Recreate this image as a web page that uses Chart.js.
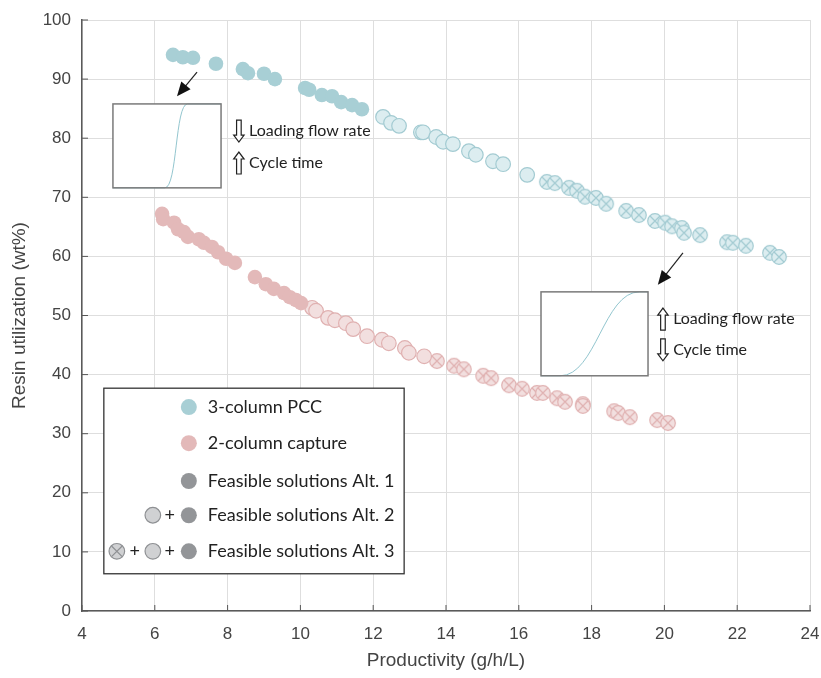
<!DOCTYPE html>
<html>
<head>
<meta charset="utf-8">
<script src="https://cdn.jsdelivr.net/npm/chart.js@4"></script>
<style>
  body { margin: 0; background: #fff; }
  #wrap { width: 821px; height: 678px; }
</style>
</head>
<body>
<div id="wrap"><canvas id="chart" width="821" height="678"></canvas></div>
<script>
// 3-column PCC, alt = which feasible-solution set the point belongs to (1, 2 or 3)
const pccX = [6.50, 6.77, 7.05, 7.68, 8.42, 8.56, 9.00, 9.30, 10.13, 10.24, 10.59, 10.87, 11.12, 11.42, 11.69,
  12.27, 12.49, 12.71, 13.31, 13.37, 13.73, 13.92, 14.19, 14.63, 14.82, 15.29, 15.57, 16.23,
  16.77, 16.99, 17.38, 17.60, 17.82, 18.12, 18.40, 18.95, 19.30, 19.74, 20.02, 20.21, 20.48, 20.54, 20.98, 21.72, 21.88, 22.24, 22.90, 23.15];
const pccY = [94.1, 93.7, 93.6, 92.6, 91.7, 91.0, 90.9, 90.0, 88.5, 88.2, 87.3, 87.1, 86.1, 85.6, 84.9,
  83.6, 82.6, 82.1, 81.0, 81.0, 80.2, 79.4, 79.0, 77.8, 77.2, 76.1, 75.6, 73.8,
  72.6, 72.4, 71.6, 71.1, 70.1, 69.9, 68.9, 67.7, 67.0, 66.0, 65.7, 65.1, 64.8, 64.0, 63.6, 62.4, 62.3, 61.8, 60.6, 59.9];
const pccAlt = [1, 1, 1, 1, 1, 1, 1, 1, 1, 1, 1, 1, 1, 1, 1,
  2, 2, 2, 2, 2, 2, 2, 2, 2, 2, 2, 2, 2,
  3, 3, 3, 3, 3, 3, 3, 3, 3, 3, 3, 3, 3, 3, 3, 3, 3, 3, 3, 3];

// 2-column capture
const capX = [6.20, 6.23, 6.53, 6.64, 6.80, 6.91, 7.21, 7.35, 7.57, 7.74, 7.96, 8.20, 8.75, 9.05, 9.27, 9.55, 9.71, 9.88, 10.02,
  10.32, 10.43, 10.76, 10.95, 11.25, 11.45, 11.83, 12.24, 12.43, 12.87, 12.98, 13.40,
  13.75, 14.22, 14.49, 15.02, 15.24, 15.73, 16.09, 16.50, 16.66, 17.05, 17.27, 17.76, 17.76, 18.62, 18.73, 19.05, 19.80, 20.10];
const capY = [67.2, 66.3, 65.7, 64.6, 64.1, 63.3, 62.9, 62.3, 61.6, 60.7, 59.6, 58.9, 56.5, 55.3, 54.5, 53.8, 53.1, 52.6, 52.1,
  51.3, 50.8, 49.6, 49.2, 48.7, 47.7, 46.5, 45.9, 45.3, 44.5, 43.7, 43.1,
  42.3, 41.5, 40.9, 39.8, 39.4, 38.2, 37.6, 36.9, 36.9, 36.0, 35.4, 35.0, 34.7, 33.8, 33.5, 32.8, 32.3, 31.8];
const capAlt = [1, 1, 1, 1, 1, 1, 1, 1, 1, 1, 1, 1, 1, 1, 1, 1, 1, 1, 1,
  2, 2, 2, 2, 2, 2, 2, 2, 2, 2, 2, 2,
  3, 3, 3, 3, 3, 3, 3, 3, 3, 3, 3, 3, 3, 3, 3, 3, 3, 3];

const xTicks = [4, 6, 8, 10, 12, 14, 16, 18, 20, 22, 24];
const yTicks = [0, 10, 20, 30, 40, 50, 60, 70, 80, 90, 100];

const legendLabels = ["3-column PCC", "2-column capture", "Feasible solutions Alt. 1", "Feasible solutions Alt. 2", "Feasible solutions Alt. 3"];

const teal = { dark: "#a8cfd5", light: "#dcedf0", edge: "#a3cbd2" };
const pink = { dark: "#e3b9b9", light: "#f2dfdf", edge: "#e0b1b1" };
const grey = { dark: "#939598", light: "#d0d1d3", edge: "#8e9093" };

function pick(xs, ys, alts, alt) {
  let out = [];
  for (let i = 0; i < xs.length; i++) {
    if (alts[i] === alt) out.push({ x: xs[i], y: ys[i] });
  }
  return out;
}

function drawCrossCircle(ctx, cx, cy, r, fill, edge) {
  ctx.beginPath();
  ctx.arc(cx, cy, r, 0, Math.PI * 2);
  ctx.fillStyle = fill;
  ctx.fill();
  ctx.lineWidth = 1.2;
  ctx.strokeStyle = edge;
  ctx.stroke();
  let d = r * 0.68;
  ctx.beginPath();
  ctx.moveTo(cx - d, cy - d); ctx.lineTo(cx + d, cy + d);
  ctx.moveTo(cx + d, cy - d); ctx.lineTo(cx - d, cy + d);
  ctx.stroke();
}

function crossMarker(col) {
  let c = document.createElement("canvas");
  c.width = 18; c.height = 18;
  drawCrossCircle(c.getContext("2d"), 9, 9, 7.3, col.light, col.edge);
  return c;
}

function makeSet(data, col, alt) {
  let ds = { data: data, pointRadius: 7.3, pointHoverRadius: 7.3, showLine: false };
  if (alt === 1) {
    ds.pointStyle = "circle";
    ds.backgroundColor = col.dark;
    ds.borderColor = col.dark;
    ds.borderWidth = 0;
  } else if (alt === 2) {
    ds.pointStyle = "circle";
    ds.backgroundColor = col.light;
    ds.borderColor = col.edge;
    ds.borderWidth = 1.2;
  } else {
    ds.pointStyle = crossMarker(col);
  }
  return ds;
}

const datasets = [
  makeSet(pick(pccX, pccY, pccAlt, 1), teal, 1),
  makeSet(pick(pccX, pccY, pccAlt, 2), teal, 2),
  makeSet(pick(pccX, pccY, pccAlt, 3), teal, 3),
  makeSet(pick(capX, capY, capAlt, 1), pink, 1),
  makeSet(pick(capX, capY, capAlt, 2), pink, 2),
  makeSet(pick(capX, capY, capAlt, 3), pink, 3)
];

function hollowArrow(ctx, cx, y0, y1) {
  // arrow pointing from y0 towards y1
  let dir = y1 > y0 ? 1 : -1;
  let hl = 7 * dir;
  ctx.beginPath();
  ctx.moveTo(cx - 2.3, y0);
  ctx.lineTo(cx + 2.3, y0);
  ctx.lineTo(cx + 2.3, y1 - hl);
  ctx.lineTo(cx + 5.2, y1 - hl);
  ctx.lineTo(cx, y1);
  ctx.lineTo(cx - 5.2, y1 - hl);
  ctx.lineTo(cx - 2.3, y1 - hl);
  ctx.closePath();
  ctx.fillStyle = "#fff";
  ctx.fill();
  ctx.lineWidth = 1.2;
  ctx.strokeStyle = "#222";
  ctx.stroke();
}

function pointerArrow(ctx, x0, y0, x1, y1) {
  let a = Math.atan2(y1 - y0, x1 - x0);
  ctx.beginPath();
  ctx.moveTo(x0, y0);
  ctx.lineTo(x1 - 10 * Math.cos(a), y1 - 10 * Math.sin(a));
  ctx.lineWidth = 1.2;
  ctx.strokeStyle = "#222";
  ctx.stroke();
  ctx.beginPath();
  ctx.moveTo(x1, y1);
  ctx.lineTo(x1 - 14 * Math.cos(a) + 6 * Math.sin(a), y1 - 14 * Math.sin(a) - 6 * Math.cos(a));
  ctx.lineTo(x1 - 14 * Math.cos(a) - 6 * Math.sin(a), y1 - 14 * Math.sin(a) + 6 * Math.cos(a));
  ctx.closePath();
  ctx.fillStyle = "#111";
  ctx.fill();
}

function inset(ctx, x0, y0, x1, y1, riseStart, riseEnd, steep) {
  let w = x1 - x0;
  ctx.fillStyle = "#fff";
  ctx.fillRect(x0, y0, w, y1 - y0);
  // breakthrough curve
  let a = x0 + w * riseStart;
  let b = x0 + w * riseEnd;
  ctx.beginPath();
  ctx.moveTo(x0, y1);
  ctx.lineTo(a, y1);
  ctx.bezierCurveTo(a + (b - a) * steep, y1, b - (b - a) * steep, y0, b, y0);
  ctx.lineTo(x1, y0);
  ctx.lineWidth = 1;
  ctx.strokeStyle = "#93c6cf";
  ctx.stroke();
  ctx.lineWidth = 1.5;
  ctx.strokeStyle = "#7a7a7a";
  ctx.strokeRect(x0, y0, w, y1 - y0);
}

const extras = {
  id: "extras",
  afterDraw(chart) {
    const ctx = chart.ctx;
    const xs = chart.scales.x;
    const ys = chart.scales.y;
    const px = v => xs.getPixelForValue(v);
    const py = v => ys.getPixelForValue(v);
    const area = chart.chartArea;
    ctx.save();

    // small inward tick marks on the axes
    ctx.strokeStyle = "#555";
    ctx.lineWidth = 1;
    ctx.beginPath();
    xTicks.forEach(t => { ctx.moveTo(px(t), area.bottom); ctx.lineTo(px(t), area.bottom - 6); });
    yTicks.forEach(t => { ctx.moveTo(area.left, py(t)); ctx.lineTo(area.left + 6, py(t)); });
    ctx.stroke();

    // insets
    inset(ctx, px(4.85), py(85.8), px(7.82), py(71.6), 0.48, 0.69, 0.55);
    inset(ctx, px(16.61), py(54.0), px(19.55), py(39.8), 0.18, 0.92, 0.45);
    pointerArrow(ctx, px(7.16), py(91.2), px(6.61), py(87.1));
    pointerArrow(ctx, px(20.51), py(60.6), px(19.82), py(55.2));

    ctx.font = "16px Lato";
    ctx.fillStyle = "#222";
    ctx.textBaseline = "middle";
    ctx.textAlign = "left";
    hollowArrow(ctx, px(8.31), py(81.2) - 11, py(81.2) + 11);
    ctx.fillStyle = "#222";
    ctx.fillText("Loading flow rate", px(8.59), py(81.2));
    hollowArrow(ctx, px(8.31), py(75.8) + 11, py(75.8) - 11);
    ctx.fillStyle = "#222";
    ctx.fillText("Cycle time", px(8.59), py(75.8));

    hollowArrow(ctx, px(19.96), py(49.4) + 11, py(49.4) - 11);
    ctx.fillStyle = "#222";
    ctx.fillText("Loading flow rate", px(20.24), py(49.4));
    hollowArrow(ctx, px(19.96), py(44.2) - 11, py(44.2) + 11);
    ctx.fillStyle = "#222";
    ctx.fillText("Cycle time", px(20.24), py(44.2));

    // legend box
    let lx0 = px(4.60), lx1 = px(12.85), ly0 = py(37.7), ly1 = py(6.3);
    ctx.fillStyle = "#fff";
    ctx.fillRect(lx0, ly0, lx1 - lx0, ly1 - ly0);
    ctx.lineWidth = 1.3;
    ctx.strokeStyle = "#333";
    ctx.strokeRect(lx0, ly0, lx1 - lx0, ly1 - ly0);

    let rows = [34.5, 28.4, 22.0, 16.2, 10.1];
    let textX = lx0 + 104;
    let m1 = lx0 + 85, plus1 = lx0 + 66, m2 = lx0 + 49, plus2 = lx0 + 31, m3 = lx0 + 13;
    let dots = [teal.dark, pink.dark, grey.dark, grey.dark, grey.dark];
    ctx.font = "18px Lato";
    for (let i = 0; i < rows.length; i++) {
      let y = py(rows[i]);
      ctx.beginPath();
      ctx.arc(m1, y, 8, 0, Math.PI * 2);
      ctx.fillStyle = dots[i];
      ctx.fill();
      if (i >= 3) {
        ctx.beginPath();
        ctx.arc(m2, y, 7.8, 0, Math.PI * 2);
        ctx.fillStyle = grey.light;
        ctx.fill();
        ctx.lineWidth = 1.2;
        ctx.strokeStyle = grey.edge;
        ctx.stroke();
        ctx.fillStyle = "#222";
        ctx.textAlign = "center";
        ctx.fillText("+", plus1, y);
      }
      if (i === 4) {
        drawCrossCircle(ctx, m3, y, 7.8, grey.light, grey.edge);
        ctx.fillStyle = "#222";
        ctx.fillText("+", plus2, y);
      }
      ctx.textAlign = "left";
      ctx.fillStyle = "#222";
      ctx.fillText(legendLabels[i], textX, y);
    }
    ctx.restore();
  }
};

new Chart(document.getElementById("chart"), {
  type: "scatter",
  data: { datasets: datasets },
  options: {
    responsive: false,
    animation: false,
    events: [],
    layout: { padding: { top: 20, right: 11, left: 0, bottom: 0 } },
    plugins: { legend: { display: false }, tooltip: { enabled: false } },
    scales: {
      x: {
        type: "linear",
        min: 4, max: 24,
        afterBuildTicks: s => { s.ticks = xTicks.map(v => ({ value: v })); },
        afterFit: s => { s.height = 67; s.paddingLeft = 0; s.paddingRight = 0; },
        grid: { color: "#dedede", lineWidth: 1, drawTicks: false },
        border: { color: "#5a5a5a", width: 1.5 },
        ticks: { padding: 13, color: "#444", font: { family: "Liberation Sans", size: 17 } },
        title: { display: true, text: "Productivity (g/h/L)", color: "#444", padding: { top: 2, bottom: 6 }, font: { family: "Liberation Sans", size: 19 } }
      },
      y: {
        type: "linear",
        min: 0, max: 100,
        afterBuildTicks: s => { s.ticks = yTicks.map(v => ({ value: v })); },
        afterFit: s => { s.width = 82; s.paddingTop = 0; s.paddingBottom = 0; },
        grid: { color: "#dedede", lineWidth: 1, drawTicks: false },
        border: { color: "#5a5a5a", width: 1.5 },
        ticks: { padding: 11, color: "#444", font: { family: "Liberation Sans", size: 17 } },
        title: { display: true, text: "Resin utilization (wt%)", color: "#444", padding: { top: 8, bottom: 0 }, font: { family: "Liberation Sans", size: 19 } }
      }
    }
  },
  plugins: [extras]
});
</script>
</body>
</html>
